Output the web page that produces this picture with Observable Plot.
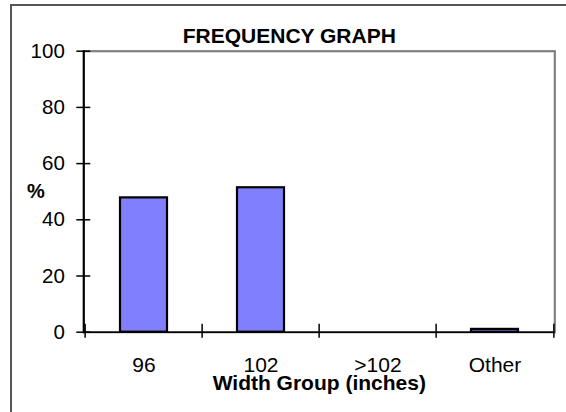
<!DOCTYPE html>
<html><head><meta charset="utf-8">
<script src="https://cdn.jsdelivr.net/npm/d3@7"></script>
<script src="https://cdn.jsdelivr.net/npm/@observablehq/plot@0.6"></script>
<style>
body{margin:0;background:#fff;}
#wrap{position:relative;width:566px;height:412px;overflow:hidden;}
#wrap svg{position:absolute;left:0;top:0;}
#border{position:absolute;left:10px;top:4px;width:600px;height:500px;border-left:2px solid #555;border-top:2px solid #555;pointer-events:none;}
</style></head><body><div id="wrap"></div>
<script>
const categories = ["96", "102", ">102", "Other"];
const percents = [47.8, 51.4, 0, 1.0];
const yTicks = [0, 20, 40, 60, 80, 100];
const title = "FREQUENCY GRAPH";
const xLabel = "Width Group (inches)";
const yLabel = "%";

const data = categories.map((c, i) => ({group: c, pct: percents[i]}));
const W = 566, H = 412, mL = 83.3, mR = 11.7, mT = 50.7, mB = 80.3;
const bw = (W - mL - mR) / categories.length;
const font = "'Liberation Sans', Arial, sans-serif";
const plot = Plot.plot({
  width: W, height: H, marginLeft: mL, marginRight: mR, marginTop: mT, marginBottom: mB,
  style: {fontFamily: font, background: "transparent", color: "#000"},
  x: {type: "band", domain: categories, padding: 0},
  y: {domain: [0, 100]},
  marks: [
    Plot.frame({stroke: "#808080", strokeWidth: 2.2}),
    Plot.barY(data, {x: "group", y: "pct", fill: "#8080FF", stroke: "#000", strokeWidth: 2.2, insetLeft: 35, insetRight: 35}),
    Plot.ruleY([0], {stroke: "#000", strokeWidth: 1.6}),
    Plot.frame({anchor: "left", stroke: "#000", strokeWidth: 2}),
    Plot.axisY(yTicks, {tickSize: 14, dx: 7, strokeWidth: 1.5, tickFormat: () => "", label: null}),
    Plot.axisY(yTicks, {tickSize: 0, tickPadding: 19, fontSize: 20.5, label: null}),
    Plot.axisX(categories, {tickSize: 14, dy: -8, dx: -bw / 2, strokeWidth: 1.5, tickFormat: () => "", label: null}),
    Plot.axisX([categories[categories.length - 1]], {tickSize: 14, dy: -8, dx: bw / 2, strokeWidth: 1.5, tickFormat: () => "", label: null}),
    Plot.axisX(categories, {tickSize: 0, tickPadding: 25, fontSize: 21, label: null}),
    Plot.text([title], {frameAnchor: "top", dx: -30, dy: -15, lineAnchor: "middle", fontSize: 21, fontWeight: "bold"}),
    Plot.text([yLabel], {frameAnchor: "left", dx: -48, textAnchor: "middle", lineAnchor: "middle", fontSize: 20, fontWeight: "bold"}),
    Plot.text([xLabel], {frameAnchor: "bottom", dy: 51, lineAnchor: "middle", fontSize: 21, fontWeight: "bold"})
  ]
});
const wrap = document.getElementById("wrap");
wrap.appendChild(plot);
const border = document.createElement("div");
border.id = "border";
wrap.appendChild(border);
</script>
</body></html>
